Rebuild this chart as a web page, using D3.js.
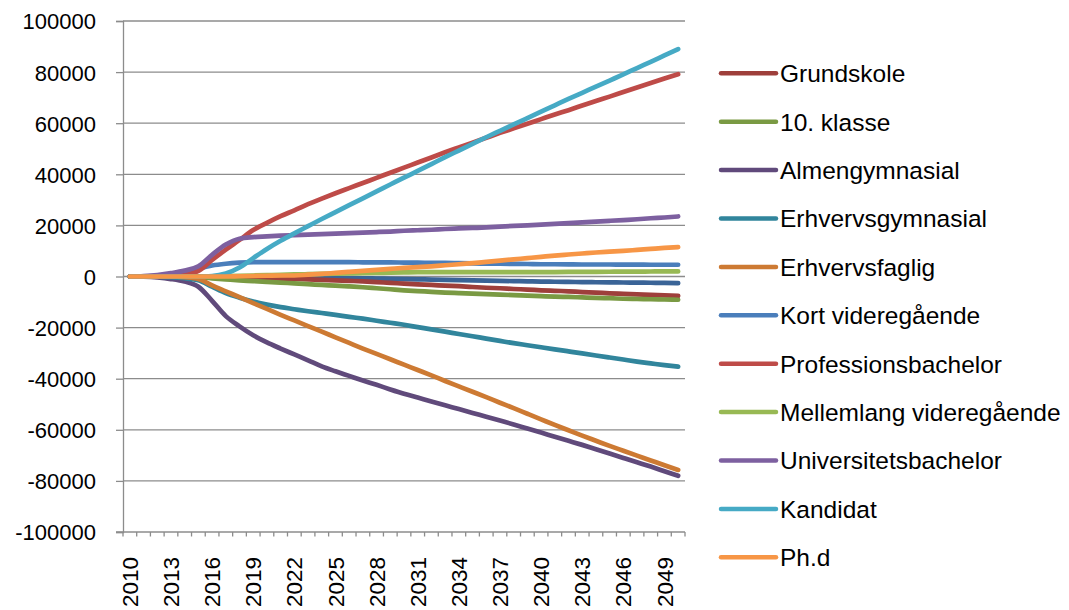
<!DOCTYPE html>
<html>
<head>
<meta charset="utf-8">
<script src="https://cdn.jsdelivr.net/npm/d3@7"></script>
<style>
  html, body { margin: 0; padding: 0; background: #fff; }
  svg { display: block; }
  text { font-family: "Liberation Sans", Arial, sans-serif; fill: #000; }
</style>
</head>
<body>
<svg id="chart" width="1069" height="610"></svg>
<script>
// ---- Data ----
const years = d3.range(2010, 2051);
const yTickValues = [100000, 80000, 60000, 40000, 20000, 0, -20000, -40000, -60000, -80000, -100000];
const xTickLabels = ["2010","2013","2016","2019","2022","2025","2028","2031","2034","2037","2040","2043","2046","2049"];

const seriesNames = ["Grundskole","10. klasse","Almengymnasial","Erhvervsgymnasial","Erhvervsfaglig",
  "Kort videregående","Professionsbachelor","Mellemlang videregående","Universitetsbachelor","Kandidat","Ph.d"];
const seriesColors = ["#9E3F3B","#7A9A43","#604A7B","#31859C","#CD7A33",
  "#4A7EBB","#BE4B48","#98B954","#7D60A0","#46AAC5","#F79646"];

// unlabelled series (present in plot, not in legend)
const unlabelled = [0,0,0,0,0,0,-50,-100,-150,-200,-300,-350,-400,-500,-550,-600,-650,-700,-800,-900,
  -1000,-1100,-1200,-1300,-1400,-1500,-1600,-1700,-1800,-1900,-2000,-2050,-2100,-2200,-2250,-2300,-2350,-2400,-2450,-2500,-2600];

const grundskole = [0,0,0,0,0,-100,-200,-300,-400,-500,-600,-800,-900,-1100,-1300,-1500,-1700,-1900,-2200,-2500,
  -2800,-3100,-3300,-3600,-3800,-4100,-4400,-4600,-4900,-5100,-5400,-5600,-5800,-6100,-6300,-6600,-6800,-7000,-7200,-7400,-7600];
const klasse10 = [0,0,0,0,0,-300,-700,-1100,-1500,-1800,-2100,-2400,-2700,-3000,-3300,-3600,-3900,-4200,-4600,-5000,
  -5400,-5700,-6000,-6300,-6500,-6700,-6900,-7100,-7300,-7500,-7700,-7900,-8000,-8200,-8400,-8500,-8700,-8800,-8900,-9000,-9100];
const almengymnasial = [0,-100,-400,-1000,-2000,-4000,-9500,-15500,-19500,-23000,-25800,-28200,-30500,-32800,-35200,-37100,-38900,-40700,-42400,-44200,
  -45900,-47400,-48900,-50400,-51900,-53400,-54900,-56400,-57900,-59500,-61100,-62700,-64300,-65900,-67600,-69300,-71000,-72700,-74400,-76200,-78000];
const erhvervsgymnasial = [0,0,-100,-300,-700,-1500,-4000,-6500,-8300,-9800,-11000,-12000,-12800,-13600,-14300,-15000,-15800,-16500,-17300,-18100,
  -18900,-19800,-20700,-21600,-22500,-23400,-24300,-25200,-26100,-26900,-27700,-28500,-29300,-30100,-30900,-31700,-32500,-33300,-34000,-34700,-35300];
const erhvervsfaglig = [0,0,0,0,-300,-1000,-3500,-5800,-8100,-10400,-12700,-15000,-17200,-19400,-21600,-23800,-26000,-28200,-30300,-32400,
  -34500,-36600,-38700,-40900,-43000,-45100,-47200,-49400,-51500,-53700,-55900,-58100,-60200,-62300,-64300,-66300,-68200,-70100,-72000,-73900,-75700];
const kortVideregaaende = [0,100,300,700,1500,3000,4300,5000,5400,5600,5600,5600,5600,5600,5600,5600,5600,5550,5500,5500,
  5450,5400,5350,5300,5200,5100,5050,5000,4950,4900,4800,4800,4750,4700,4700,4700,4650,4650,4600,4600,4600];
const professionsbachelor = [0,0,0,0,700,2200,6500,10500,14300,18200,21000,23600,25900,28300,30500,32600,34600,36600,38600,40600,
  42600,44600,46600,48600,50500,52400,54300,56200,58000,59800,61600,63400,65100,66900,68700,70400,72200,74000,75700,77500,79200];
const mellemlang = [0,0,0,0,0,0,100,200,300,400,500,600,800,900,1000,1100,1200,1300,1400,1500,
  1600,1700,1700,1700,1700,1700,1700,1700,1700,1700,1700,1750,1800,1800,1800,1850,1900,1900,1950,2000,2000];
const universitetsbachelor = [0,200,600,1300,2300,4000,8500,12500,14800,15400,15700,16000,16200,16400,16600,16800,17000,17200,17400,17600,
  17900,18100,18300,18600,18800,19000,19200,19500,19800,20000,20300,20600,20900,21200,21500,21800,22100,22400,22800,23100,23500];
const kandidat = [0,0,0,0,0,0,200,1200,3500,7200,10800,14000,16900,19700,22500,25200,27900,30600,33300,36000,
  38700,41300,44000,46700,49300,51900,54500,57000,59500,62000,64500,67000,69500,71900,74300,76700,79100,81600,84000,86500,89000];
const phd = [0,0,0,0,0,0,0,0,100,200,300,400,400,700,1000,1400,1800,2200,2600,3000,
  3400,3700,4000,4400,4800,5200,5700,6200,6700,7200,7700,8200,8600,9000,9400,9700,10000,10400,10800,11200,11500];

const seriesValues = [grundskole, klasse10, almengymnasial, erhvervsgymnasial, erhvervsfaglig,
  kortVideregaaende, professionsbachelor, mellemlang, universitetsbachelor, kandidat, phd];
const unlabelledColor = "#3A6497";

// ---- Drawing ----
const svg = d3.select("#chart");
const plot = { left: 123, right: 685, top: 21, bottom: 532 };

const x = d3.scaleBand().domain(years).range([plot.left, plot.right]).padding(0);
const y = d3.scaleLinear().domain([-100000, 100000]).range([plot.bottom, plot.top]);
const gridColor = "#8C8C8C";

// gridlines
svg.append("g").selectAll("line").data(yTickValues.filter(v => v !== -100000)).join("line")
  .attr("x1", plot.left).attr("x2", plot.right)
  .attr("y1", d => y(d)).attr("y2", d => y(d))
  .attr("stroke", gridColor).attr("stroke-width", 1.3);

// y axis
const yAxis = d3.axisLeft(y).tickValues(yTickValues).tickSize(7).tickPadding(20)
  .tickFormat(d => String(d));
const gy = svg.append("g").attr("transform", `translate(${plot.left},0)`).call(yAxis);
gy.select(".domain").attr("stroke", gridColor).attr("stroke-width", 1.3);
gy.selectAll(".tick line").attr("stroke", gridColor).attr("stroke-width", 1.3);
gy.selectAll(".tick text").attr("font-size", "22px").attr("font-family", "Liberation Sans, Arial, sans-serif")
  .attr("fill", "#000").attr("dy", "0.36em");

// x axis (ticks between categories)
const bw = x.bandwidth();
const boundaries = years.map(yr => x(yr)).concat([x(years[years.length - 1]) + bw]);
svg.append("line").attr("x1", plot.left - 7).attr("x2", plot.right)
  .attr("y1", plot.bottom).attr("y2", plot.bottom).attr("stroke", gridColor).attr("stroke-width", 1.3);
svg.append("g").selectAll("line").data(boundaries).join("line")
  .attr("x1", d => d).attr("x2", d => d).attr("y1", plot.bottom).attr("y2", plot.bottom + 4.5)
  .attr("stroke", gridColor).attr("stroke-width", 1.3);
const xAxis = d3.axisBottom(x).tickValues(xTickLabels.map(Number)).tickSize(0).tickFormat(d => String(d));
const gx = svg.append("g").attr("transform", `translate(0,${plot.bottom})`).call(xAxis);
gx.select(".domain").remove();
gx.selectAll(".tick text")
  .attr("font-size", "22.5px").attr("font-family", "Liberation Sans, Arial, sans-serif").attr("fill", "#000")
  .attr("text-anchor", "end")
  .attr("transform", "translate(0,25) rotate(-90)")
  .attr("x", 0).attr("y", 0).attr("dy", "0.36em");

// lines
const line = d3.line()
  .x((d, i) => x(years[i]) + bw / 2)
  .y(d => y(d))
  .curve(d3.curveMonotoneX);

const linesG = svg.append("g").attr("fill", "none").attr("stroke-linecap", "round").attr("stroke-linejoin", "round");
linesG.append("path").attr("d", line(unlabelled)).attr("stroke", unlabelledColor).attr("stroke-width", 4.7);
seriesValues.forEach((vals, i) => {
  linesG.append("path").attr("d", line(vals)).attr("stroke", seriesColors[i]).attr("stroke-width", 4.7);
});

// legend
const legend = svg.append("g");
const legY0 = 73.3, legStep = 48.4;
seriesNames.forEach((name, i) => {
  const gy0 = legY0 + i * legStep;
  legend.append("line").attr("x1", 721).attr("x2", 776).attr("y1", gy0).attr("y2", gy0)
    .attr("stroke", seriesColors[i]).attr("stroke-width", 4.5).attr("stroke-linecap", "round");
  legend.append("text").attr("x", 780).attr("y", gy0).attr("dy", "0.36em")
    .attr("font-size", "24.5px").text(name);
});
</script>
</body>
</html>
